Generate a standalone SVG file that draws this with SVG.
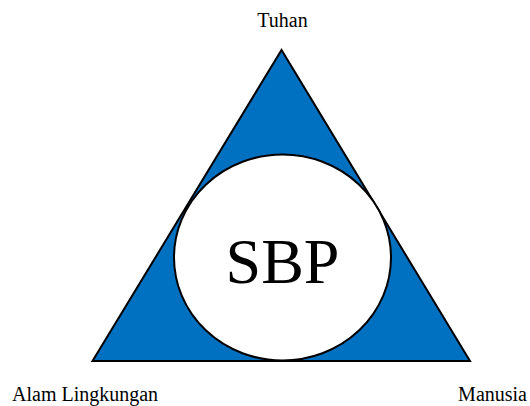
<svg xmlns="http://www.w3.org/2000/svg" width="530" height="406" viewBox="0 0 530 406">
<style>
text{font-family:'Liberation Serif','Times New Roman',Tinos,'DejaVu Serif','Noto Serif',serif;fill:#000}
.lbl{font-size:20px}
.big{font-size:64px}
</style>
<rect width="530" height="406" fill="#fff"/>
<g id="triangle">
<polygon points="281.5,50 92.5,361 470,361" fill="#0070C0" stroke="#000" stroke-width="2" stroke-linejoin="miter"/>
</g>
<g id="sbp">
<ellipse cx="282.5" cy="257.5" rx="108.5" ry="103" fill="#fff" stroke="#000" stroke-width="2"/>
<text class="big" x="282.5" y="283" text-anchor="middle">SBP</text>
</g>
<g id="tuhan"><text class="lbl" x="282.5" y="27" text-anchor="middle">Tuhan</text></g>
<g id="alam"><text class="lbl" x="12" y="401">Alam Lingkungan</text></g>
<g id="manusia"><text class="lbl" x="527" y="401" text-anchor="end">Manusia</text></g>
<g id="connectors"/>
</svg>
